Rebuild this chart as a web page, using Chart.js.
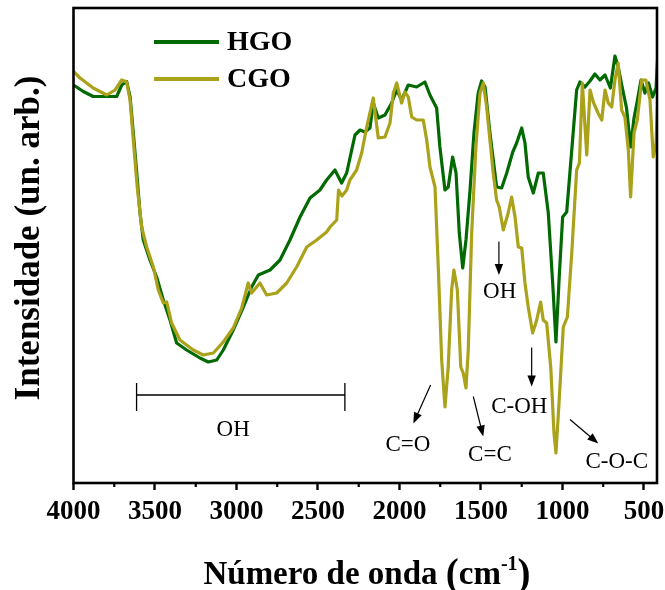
<!DOCTYPE html>
<html><head><meta charset="utf-8">
<script src="https://cdn.jsdelivr.net/npm/chart.js@4.4.1/dist/chart.umd.min.js"></script>
<style>html,body{margin:0;padding:0;background:#fff;}#wrap{width:665px;height:590px;}</style>
</head><body><div id="wrap"><canvas id="c" width="665" height="590"></canvas></div>
<script>
// ---- data (wavenumber in cm-1, intensity in arbitrary units) ----
const HGO_wn = [4000,3940,3879,3796,3735,3704,3674,3653,3633,3612,3592,3572,3531,3490,3449,3408,3367,3306,3224,3173,3121,3081,3020,2958,2907,2866,2794,2733,2672,2610,2549,2488,2447,2396,2355,2324,2273,2242,2212,2181,2161,2130,2089,2048,2017,1987,1946,1895,1844,1813,1772,1752,1721,1701,1674,1653,1633,1612,1592,1567,1543,1517,1496,1475,1445,1404,1373,1342,1305,1281,1250,1230,1210,1179,1148,1118,1087,1060,1040,1020,999,974,943,913,893,862,831,801,770,739,706,678,658,635,607,582,561,540,518,494,472,447,426,412];
const HGO_int = [79.4,78.1,77.1,77.1,77.1,79.4,80.1,77.1,69.8,61.8,53.8,48.4,44.4,41.0,36.4,32.4,27.8,26.4,24.8,24.0,24.4,26.4,30.4,35.0,39.0,41.4,42.4,44.4,48.4,53.0,56.8,58.4,60.4,62.4,59.8,61.8,69.4,70.4,70.0,70.8,75.8,72.8,73.4,75.8,78.4,76.4,79.4,79.0,80.0,77.4,74.8,67.0,58.4,59.0,65.0,61.8,49.8,42.8,48.4,58.4,69.8,77.8,80.2,79.0,69.8,59.0,58.8,61.8,66.0,67.8,70.8,67.8,61.0,57.8,61.8,61.8,53.8,39.8,28.0,41.0,53.0,54.0,66.4,78.4,80.0,79.0,80.2,81.6,80.4,81.4,78.8,85.2,83.0,79.2,74.8,67.0,72.8,76.4,80.4,77.8,79.8,77.0,78.8,87.4];
const CGO_wn = [4000,3960,3879,3796,3745,3704,3674,3653,3633,3609,3582,3551,3510,3480,3449,3428,3398,3347,3265,3204,3142,3081,3020,2968,2928,2907,2856,2815,2753,2692,2631,2569,2508,2447,2426,2385,2374,2353,2324,2304,2263,2232,2201,2161,2130,2089,2058,2038,2017,1987,1966,1946,1925,1895,1854,1833,1813,1782,1762,1741,1721,1701,1680,1666,1645,1624,1609,1592,1578,1557,1531,1506,1486,1465,1445,1425,1404,1388,1363,1333,1312,1291,1271,1250,1230,1210,1183,1158,1134,1118,1097,1072,1052,1040,1020,995,970,943,913,896,878,851,831,811,782,759,739,719,698,678,658,637,617,596,582,561,541,514,488,463,443,426,412];
const CGO_int = [82.1,80.8,78.8,77.4,78.4,80.4,80.0,76.4,68.4,59.0,51.0,47.0,43.0,38.4,35.8,36.0,31.8,28.4,26.4,25.4,25.8,28.0,30.8,34.8,39.8,37.8,39.8,37.4,37.8,39.8,43.0,47.0,48.4,50.0,51.0,52.4,58.4,57.2,58.4,60.4,62.4,65.8,71.0,76.8,68.8,69.0,71.8,77.8,79.8,75.8,78.0,77.0,73.0,72.4,72.4,68.4,63.0,59.0,43.0,24.4,15.0,23.0,38.4,42.4,38.4,23.0,21.8,18.8,26.4,49.8,67.0,77.8,79.8,75.0,68.4,61.8,56.4,55.0,50.4,53.8,57.0,53.0,47.0,46.8,39.8,35.0,29.8,32.4,36.0,32.4,31.8,23.0,9.8,5.8,16.4,31.0,33.0,45.8,62.4,63.8,79.8,65.4,78.4,76.0,73.8,72.4,78.4,75.8,75.0,80.4,83.8,74.4,73.0,66.4,57.0,69.8,72.4,80.4,80.4,76.4,65.0,67.8,79.0];
const seriesLabels = ['HGO', 'CGO'];
const xTickValues = [4000,3500,3000,2500,2000,1500,1000,500];
const xMinorTicks = [3750,3250,2750,2250,1750,1250,750];

// ---- annotations (data coordinates) ----
const ohBand = {from: 3613, to: 2335, y: 17.4, capTop: 19.8, capBottom: 14.2};
const bandArrows = [
  {from: [1390, 48.1], to: [1390, 41.4]},
  {from: [1809, 19.4], to: [1915, 11.7]},
  {from: [1547, 17.1], to: [1486, 9.1]},
  {from: [1189, 26.9], to: [1189, 19.1]},
  {from: [954, 12.5], to: [780, 7.7]}
];
const bandLabels = [
  {text: 'OH', at: [3020, 10.4]},
  {text: 'OH', at: [1385, 38.1]},
  {text: 'C=O', at: [1948, 7.4]},
  {text: 'C=C', at: [1445, 5.4]},
  {text: 'C-OH', at: [1265, 15.1]},
  {text: 'C-O-C', at: [667, 4.1]}
];

const SERIF = "'Liberation Serif','Times New Roman',serif";
const colors = ['#036903', '#aaa21b'];

function arrow(ctx, x1, y1, x2, y2) {
  const a = Math.atan2(y2 - y1, x2 - x1);
  const hl = 11, hw = 4.2;
  ctx.beginPath();
  ctx.moveTo(x1, y1);
  ctx.lineTo(x2 - hl * 0.7 * Math.cos(a), y2 - hl * 0.7 * Math.sin(a));
  ctx.stroke();
  ctx.beginPath();
  ctx.moveTo(x2, y2);
  ctx.lineTo(x2 - hl * Math.cos(a) + hw * Math.sin(a), y2 - hl * Math.sin(a) - hw * Math.cos(a));
  ctx.lineTo(x2 - hl * Math.cos(a) - hw * Math.sin(a), y2 - hl * Math.sin(a) + hw * Math.cos(a));
  ctx.closePath();
  ctx.fill();
}

const decor = {
  id: 'decor',
  afterDatasetsDraw(chart) {
    const ctx = chart.ctx, ca = chart.chartArea;
    const xs = chart.scales.x, ys = chart.scales.y;
    ctx.save();
    // frame
    ctx.strokeStyle = '#000'; ctx.lineWidth = 2.6;
    ctx.strokeRect(ca.left, ca.top, ca.right - ca.left, ca.bottom - ca.top);
    // minor ticks
    ctx.lineWidth = 2.2;
    xMinorTicks.forEach(v => {
      const px = xs.getPixelForValue(v);
      ctx.beginPath(); ctx.moveTo(px, ca.bottom); ctx.lineTo(px, ca.bottom + 4); ctx.stroke();
    });
    // OH band bracket
    ctx.lineWidth = 1.3;
    const bx1 = xs.getPixelForValue(ohBand.from), bx2 = xs.getPixelForValue(ohBand.to);
    const by = ys.getPixelForValue(ohBand.y);
    const bt = ys.getPixelForValue(ohBand.capTop), bb = ys.getPixelForValue(ohBand.capBottom);
    ctx.beginPath();
    ctx.moveTo(bx1, by); ctx.lineTo(bx2, by);
    ctx.moveTo(bx1, bt); ctx.lineTo(bx1, bb);
    ctx.moveTo(bx2, bt); ctx.lineTo(bx2, bb);
    ctx.stroke();
    // arrows
    ctx.fillStyle = '#000'; ctx.lineWidth = 1.2;
    bandArrows.forEach(a => {
      arrow(ctx, xs.getPixelForValue(a.from[0]), ys.getPixelForValue(a.from[1]),
                 xs.getPixelForValue(a.to[0]), ys.getPixelForValue(a.to[1]));
    });
    // labels
    ctx.font = '23px ' + SERIF;
    ctx.textAlign = 'center'; ctx.textBaseline = 'middle';
    bandLabels.forEach(l => {
      ctx.fillText(l.text, xs.getPixelForValue(l.at[0]), ys.getPixelForValue(l.at[1]));
    });
    // legend
    ctx.textAlign = 'left';
    ctx.font = 'bold 28px ' + SERIF;
    chart.data.datasets.forEach((ds, i) => {
      const y = 42 + i * 37;
      ctx.strokeStyle = ds.borderColor; ctx.lineWidth = 4;
      ctx.beginPath(); ctx.moveTo(154, y); ctx.lineTo(219, y); ctx.stroke();
      ctx.fillStyle = '#000';
      ctx.fillText(ds.label, 227, y + 1);
    });
    ctx.restore();
  },
  afterDraw(chart) {
    const ctx = chart.ctx, ca = chart.chartArea;
    ctx.save();
    ctx.fillStyle = '#000';
    // y title
    ctx.save();
    ctx.translate(30, 238);
    ctx.rotate(-Math.PI / 2);
    ctx.font = 'bold 35px ' + SERIF;
    ctx.textAlign = 'center'; ctx.textBaseline = 'middle';
    ctx.fillText('Intensidade (un. arb.)', 0, 0);
    ctx.restore();
    // x title with superscript
    const parts = [
      {t: 'Número de onda ', f: 'bold 33px ' + SERIF, dy: 0},
      {t: '(', f: 'bold 39px ' + SERIF, dy: 2},
      {t: 'cm', f: 'bold 33px ' + SERIF, dy: 0},
      {t: '-1', f: 'bold 20px ' + SERIF, dy: -14},
      {t: ')', f: 'bold 39px ' + SERIF, dy: 2}
    ];
    let total = 0;
    parts.forEach(p => { ctx.font = p.f; p.w = ctx.measureText(p.t).width; total += p.w; });
    let x = 367 - total / 2;
    const base = 584;
    ctx.textAlign = 'left'; ctx.textBaseline = 'alphabetic';
    parts.forEach(p => { ctx.font = p.f; ctx.fillText(p.t, x, base + p.dy); x += p.w; });
    ctx.restore();
  }
};

const datasets = [
  {label: seriesLabels[0], data: HGO_wn.map((w, i) => ({x: w, y: HGO_int[i]})), borderColor: colors[0], order: 1},
  {label: seriesLabels[1], data: CGO_wn.map((w, i) => ({x: w, y: CGO_int[i]})), borderColor: colors[1], order: 0}
].map(d => Object.assign(d, {borderWidth: 3.2, pointRadius: 0, tension: 0, fill: false, borderJoinStyle: 'round'}));

new Chart(document.getElementById('c'), {
  type: 'line',
  data: {datasets},
  options: {
    responsive: false,
    animation: false,
    devicePixelRatio: 1,
    layout: {padding: {left: 0, top: 8, right: 8, bottom: 0}},
    plugins: {legend: {display: false}, tooltip: {enabled: false}},
    scales: {
      x: {
        type: 'linear', reverse: true, min: 420, max: 4000,
        afterBuildTicks: s => { s.ticks = xTickValues.map(v => ({value: v})); },
        afterFit: s => { s.height = 107; s.paddingLeft = 0; s.paddingRight = 0; },
        ticks: {color: '#000', font: {family: SERIF, size: 27, weight: 'bold'}, padding: 6, maxRotation: 0, autoSkip: false,
                callback: v => String(v)},
        grid: {drawOnChartArea: false, drawTicks: true, tickLength: 7, tickWidth: 2.4, tickColor: '#000'},
        border: {display: false}
      },
      y: {
        min: -0.2, max: 94.8,
        ticks: {display: false},
        grid: {display: false},
        border: {display: false},
        afterFit: s => { s.width = 73.5; }
      }
    }
  },
  plugins: [decor]
});
</script></body></html>
